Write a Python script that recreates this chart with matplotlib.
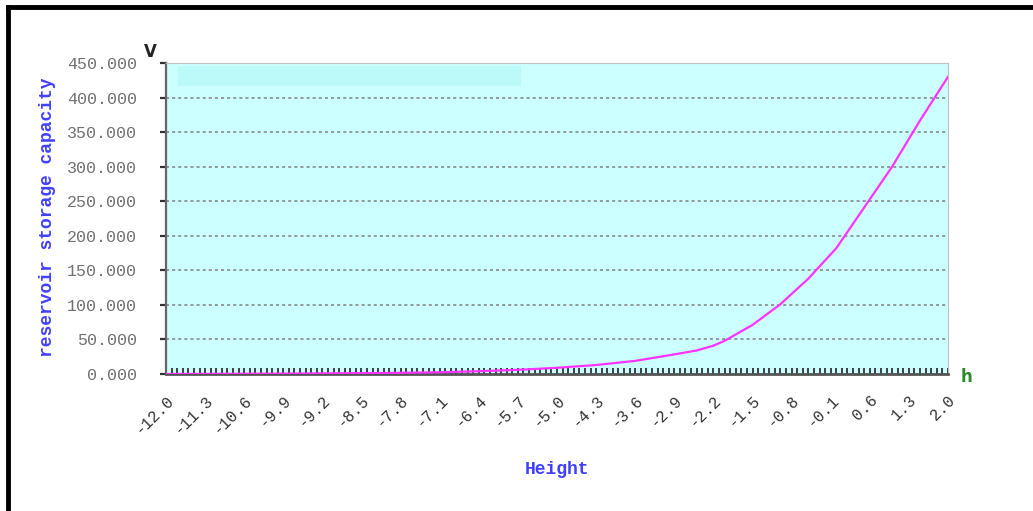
import matplotlib
matplotlib.use("Agg")
import matplotlib.pyplot as plt
import matplotlib.patches as patches
import numpy as np

# values
height = [-12.0, -10.0, -8.0, -7.1, -6.4, -5.7, -5.0, -4.3, -3.6, -3.0, -2.5, -2.2,
          -2.0, -1.5, -1.0, -0.5, 0.0, 0.5, 1.0, 1.5, 2.0]
capacity = [0.0, 0.5, 1.5, 2.5, 4.0, 6.0, 9.0, 13.0, 19.0, 27.0, 34.0, 41.0,
            48.0, 71.0, 101.0, 138.0, 182.0, 241.0, 300.0, 367.0, 430.0]

x_labels = ["-12.0", "-11.3", "-10.6", "-9.9", "-9.2", "-8.5", "-7.8", "-7.1", "-6.4",
            "-5.7", "-5.0", "-4.3", "-3.6", "-2.9", "-2.2", "-1.5", "-0.8", "-0.1",
            "0.6", "1.3", "2.0"]
y_ticks = [0, 50, 100, 150, 200, 250, 300, 350, 400, 450]

fig = plt.figure(figsize=(10.33, 5.11), dpi=100)
ax = fig.add_axes([166 / 1033, 1 - 374 / 511, 782 / 1033, 311 / 511])
ax.set_facecolor("#ccffff")

# lighter band in the top left corner of the plot area
ax.add_patch(patches.Rectangle((0.015, 0.926), 0.439, 0.064, transform=ax.transAxes,
                               facecolor="#bcf9f9", edgecolor="none", zorder=0))

ax.plot(height, capacity, color="#ff33ff", lw=1.6, zorder=3)

ax.set_xlim(-12.0, 2.0)
ax.set_ylim(0, 450)

ax.set_yticks(y_ticks)
ax.set_yticklabels(["%.3f" % v for v in y_ticks], family="Liberation Mono",
                   fontsize=12, color="#707070")
for v in y_ticks[1:-1]:
    ax.axhline(v, color="#808080", lw=1.1, ls=(0, (2, 2)), zorder=1)

xt = [float(s) for s in x_labels]
ax.set_xticks(xt)
ax.set_xticklabels(x_labels, rotation=45, ha="right", rotation_mode="anchor",
                   family="Liberation Mono", fontsize=11.5, color="#333333")
ax.set_xticks(np.round(np.arange(-12.0, 2.01, 0.1), 1), minor=True)
ax.tick_params(axis="x", which="both", direction="in", length=4, width=1.2,
               color="#222222", pad=13)
ax.tick_params(axis="y", direction="out", length=4, width=1.6, color="#333333", pad=17)

ax.spines["left"].set_color("#666666")
ax.spines["left"].set_linewidth(1.6)
ax.spines["bottom"].set_color("#555555")
ax.spines["bottom"].set_linewidth(2)
ax.spines["top"].set_color("#c0c0c0")
ax.spines["right"].set_color("#c0c0c0")

fig.text(48 / 1033, 1 - 217 / 511, "reservoir storage capacity", rotation=90,
         ha="center", va="center", family="Liberation Mono", fontweight="bold",
         fontsize=13, color="#4040ff")
fig.text(557 / 1033, 1 - 469 / 511, "Height", ha="center", va="center",
         family="Liberation Mono", fontweight="bold", fontsize=13, color="#4040ff")
fig.text(150 / 1033, 1 - 52 / 511, "V", ha="center", va="center",
         family="DejaVu Sans", fontweight="bold", fontsize=12, color="#222222")
fig.text(967 / 1033, 1 - 377 / 511, "h", ha="center", va="center",
         family="DejaVu Sans", fontweight="bold", fontsize=12, color="#2a8a2a")

# black frame on the top and left edges of the picture
fig.add_artist(plt.Line2D([7.5 / 1033, 1], [1 - 7.5 / 511, 1 - 7.5 / 511],
                          color="black", lw=3.5, transform=fig.transFigure))
fig.add_artist(plt.Line2D([7.5 / 1033, 7.5 / 1033], [0, 1 - 7.5 / 511],
                          color="black", lw=3.5, transform=fig.transFigure))

fig.savefig("out.png", dpi=100)
